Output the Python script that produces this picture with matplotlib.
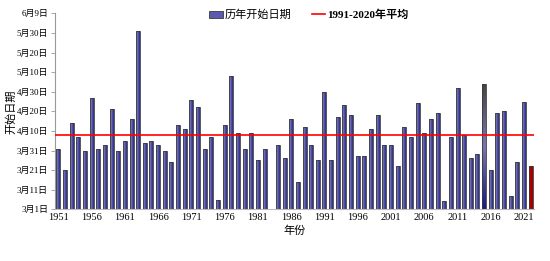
import numpy as np
import matplotlib
matplotlib.use("Agg")
import matplotlib.pyplot as plt
from matplotlib.patches import Patch
from matplotlib.lines import Line2D
from matplotlib.colors import LinearSegmentedColormap

plt.rcParams['font.family'] = ['Liberation Serif', 'Noto Sans CJK SC']

# days after 3月1日 (3月1日 = 0), nan = no data
years = np.arange(1951, 2023)
start_day = np.array([
    31, 20, 44, 37, 30, 57, 31, 33, 51, 30,      # 1951-1960
    35, 46, 91, 34, 35, 33, 30, 24, 43, 41,      # 1961-1970
    56, 52, 31, 37, 5, 43, 68, 39, 31, 39,       # 1971-1980
    25, 31, np.nan, 33, 26, 46, 14, 42, 33, 25,  # 1981-1990
    60, 25, 47, 53, 48, 27, 27, 41, 48, 33,      # 1991-2000
    33, 22, 42, 37, 54, 39, 46, 49, 4, 37,       # 2001-2010
    62, 38, 26, 28, 64, 20, 49, 50, 7, 24,       # 2011-2020
    55, 22,                                      # 2021-2022
])
avg_1991_2020 = 38

ytick_days = np.arange(0, 101, 10)
ytick_labels = ['3月1日', '3月11日', '3月21日', '3月31日', '4月10日', '4月20日',
                '4月30日', '5月10日', '5月20日', '5月30日', '6月9日']
xtick_years = np.arange(1951, 2022, 5)

# gradient fills like the original office chart
blue_cm = LinearSegmentedColormap.from_list('b', ['#9a9aa8', '#5a5ab0', '#2a2a8c'])
gray_cm = LinearSegmentedColormap.from_list('g', ['#1a1a80', '#7878b0', '#444444'])
red_cm = LinearSegmentedColormap.from_list('r', ['#c00000', '#b00000', '#900000'])

fig = plt.figure(figsize=(5.5, 2.61), dpi=100)
ax = fig.add_axes([0.1, 0.198, 0.871, 0.751])

x = np.arange(len(years))
bars = ax.bar(x, np.nan_to_num(start_day), width=0.6, color='none',
              edgecolor='#3a3a3a', linewidth=0.6, zorder=3)
hgrad = np.linspace(0, 1, 32).reshape(1, -1)
vgrad = np.linspace(0, 1, 64).reshape(-1, 1)
for yr, b in zip(years, bars):
    h = b.get_height()
    if h <= 0:
        continue
    x0 = b.get_x()
    x1 = x0 + b.get_width()
    if yr == 2015:
        img, cm = vgrad, gray_cm
    elif yr == 2022:
        img, cm = hgrad, red_cm
    else:
        img, cm = hgrad, blue_cm
    im = ax.imshow(img, extent=[x0, x1, 0, h], origin='lower', aspect='auto',
                   cmap=cm, zorder=2, interpolation='bilinear')
    im.set_clip_path(b)

ax.axhline(avg_1991_2020, color='#ff0000', linewidth=1.2, zorder=4)

ax.set_xlim(-0.5, len(years) - 0.5)
ax.set_ylim(0, 100)
ax.set_yticks(ytick_days)
ax.set_yticklabels(ytick_labels, fontsize=6.5)
ax.set_xticks([list(years).index(y) for y in xtick_years])
ax.set_xticklabels([str(y) for y in xtick_years], fontsize=7.5)
ax.tick_params(axis='x', length=0, pad=3)
ax.tick_params(axis='y', length=3, width=0.6, color='#999999', pad=2)

for s in ['top', 'right']:
    ax.spines[s].set_visible(False)
ax.spines['left'].set_color('#999999')
ax.spines['bottom'].set_color('#bbbbbb')

ax.set_ylabel('开始日期', fontsize=8, family=['Noto Sans CJK SC'])
ax.yaxis.set_label_coords(-0.08, 0.5)
ax.set_xlabel('年份', fontsize=8, labelpad=2, family=['Noto Sans CJK SC'])

handles = [Patch(facecolor='#5a5ab0', edgecolor='#3a3a3a', linewidth=0.6),
           Line2D([0], [0], color='#ff0000', linewidth=1.2)]
leg = ax.legend(handles, ['历年开始日期', '1991-2020年平均'], ncol=2, frameon=False,
                loc='upper center', bbox_to_anchor=(0.53, 1.07), fontsize=8,
                handlelength=1.2, handleheight=0.6, handletextpad=0.2,
                columnspacing=1.8)
leg.get_texts()[1].set_fontweight('bold')

fig.savefig('out.png', dpi=100)
